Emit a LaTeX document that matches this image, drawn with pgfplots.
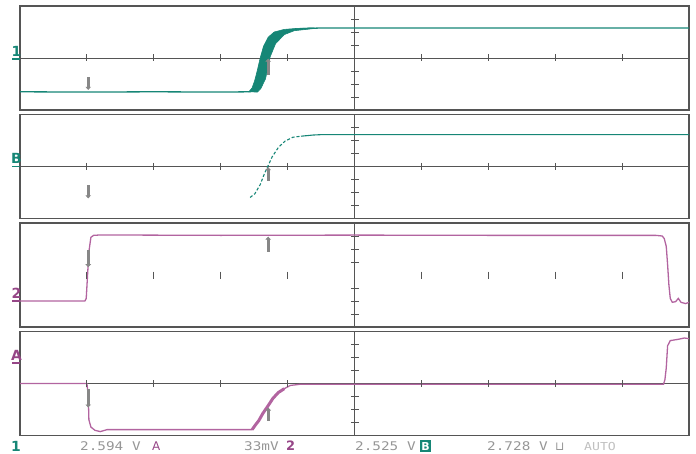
\documentclass[border=0pt]{standalone}
\usepackage{pgfplots}
\pgfplotsset{compat=1.18}
\usetikzlibrary{arrows.meta}
\usepackage{fontspec}
\newfontfamily\scopefont[FakeStretch=1.2]{DejaVu Sans Mono}
\newfontfamily\labfont{DejaVu Sans}
\definecolor{frame}{RGB}{85,85,85}
\definecolor{tealc}{RGB}{22,134,118}
\definecolor{magc}{RGB}{178,100,160}
\definecolor{magl}{RGB}{150,70,135}
\definecolor{curs}{RGB}{135,135,135}
\definecolor{txtg}{RGB}{150,150,150}
\newcommand{\scopegrid}{%
 \addplot[frame, line width=0.9bp] coordinates {(5,-4)(5,4)};
 \addplot[frame, only marks, mark=-, mark size=4bp, mark options={line width=0.9bp}] coordinates {(5,-3)(5,-2)(5,-1)(5,1)(5,2)(5,3)};
 \addplot[frame, only marks, mark=|, mark size=3.5bp, mark options={line width=0.9bp}] coordinates {(1,0)(2,0)(3,0)(4,0)(6,0)(7,0)(8,0)(9,0)};
}
\newcommand{\hzero}{\addplot[frame, line width=0.9bp] coordinates {(0,0)(10,0)};}
\tikzset{cur/.style={curs, line width=2.8bp, -{Triangle[width=5.5bp,length=3bp]}}}
\begin{document}
\begin{tikzpicture}
\useasboundingbox (0,0) rectangle (696bp,-454bp);
\pgfplotsset{scope/.style={at={(20bp,#1)}, anchor=north west, width=669bp, height=104bp, scale only axis,
  xmin=0, xmax=10, ymin=-4, ymax=4, axis line style={draw=frame, line width=1.1bp}, ticks=none, clip=true}}
% Panel 1
\begin{axis}[scope=-6bp]
\hzero
\scopegrid
\addplot[tealc, fill=tealc, line width=0.6bp] coordinates {(3.42,-2.6)(3.47,-2.3)(3.51,-1.7)(3.55,-0.9)(3.59,0)(3.64,0.9)(3.71,1.6)(3.8,2.0)(3.95,2.2)(4.15,2.28)(4.4,2.32)(4.4,2.27)(4.1,2.1)(3.95,1.8)(3.82,1.1)(3.74,0.1)(3.67,-1.6)(3.6,-2.35)(3.55,-2.62)} -- cycle;
\addplot[tealc, line width=1.3bp] coordinates {(0,-2.6)(1.0,-2.62)(2.0,-2.6)(3.0,-2.62)(3.44,-2.6)(3.5,-2.35)(3.55,-1.7)(3.6,-0.8)(3.65,0)(3.7,0.75)(3.77,1.35)(3.86,1.8)(3.97,2.05)(4.1,2.2)(4.25,2.27)(4.45,2.3)(5,2.3)(7,2.31)(10,2.3)};
\addplot[cur] coordinates {(1.02,-1.5)(1.02,-2.45)};
\addplot[cur] coordinates {(3.71,-1.3)(3.71,-0.05)};
\end{axis}
% Panel 2
\begin{axis}[scope=-114.5bp]
\hzero
\scopegrid
\addplot[tealc, line width=1.1bp, densely dashed] coordinates {(3.44,-2.38)(3.51,-2.1)(3.59,-1.4)(3.65,-0.6)(3.71,0.08)(3.77,0.75)(3.86,1.45)(3.96,1.95)(4.08,2.25)(4.2,2.33)};
\addplot[tealc, line width=1.1bp] coordinates {(4.2,2.33)(4.38,2.42)(4.5,2.45)(7,2.45)(10,2.45)};
\addplot[cur] coordinates {(1.02,-1.45)(1.02,-2.45)};
\addplot[cur] coordinates {(3.71,-1.1)(3.71,-0.05)};
\end{axis}
% Panel 3
\begin{axis}[scope=-223bp]
\scopegrid
\addplot[magc, line width=1.3bp] coordinates {(0,-2.0)(0.97,-2.0)(0.99,-1.8)(1.01,0.0)(1.03,1.8)(1.06,2.9)(1.1,3.05)(1.2,3.08)(3,3.05)(5,3.07)(7,3.05)(9.5,3.05)(9.6,3.0)(9.63,2.8)(9.66,2.2)(9.68,0.8)(9.7,-0.8)(9.72,-1.8)(9.75,-2.1)(9.8,-2.05)(9.84,-1.8)(9.88,-2.1)(9.95,-2.2)(10,-2.1)};
\addplot[cur] coordinates {(1.02,1.95)(1.02,0.6)};
\addplot[cur] coordinates {(3.71,1.8)(3.71,2.95)};
\end{axis}
% Panel 4
\begin{axis}[scope=-331.5bp]
\hzero
\scopegrid
\addplot[magc, line width=1.3bp] coordinates {(0,0)(1.0,0)(1.02,-0.9)(1.03,-2.8)(1.06,-3.35)(1.12,-3.6)(1.2,-3.7)(1.3,-3.55)(2,-3.55)(3,-3.55)(3.47,-3.55)(3.51,-3.25)(3.57,-2.85)(3.63,-2.3)(3.71,-1.7)(3.78,-1.15)(3.86,-0.7)(3.95,-0.4)(4.04,-0.15)(4.2,-0.05)(6,-0.05)(9.62,-0.05)(9.64,0.3)(9.66,1.2)(9.68,2.9)(9.72,3.3)(9.84,3.4)(9.93,3.5)(10,3.45)};
\addplot[magc, line width=3bp] coordinates {(3.47,-3.55)(3.51,-3.25)(3.57,-2.85)(3.63,-2.3)(3.71,-1.7)(3.78,-1.15)(3.86,-0.7)(3.95,-0.4)};
\addplot[cur] coordinates {(1.02,-0.4)(1.02,-1.85)};
\addplot[cur] coordinates {(3.71,-2.85)(3.71,-1.85)};
\end{axis}
% channel labels
\node[tealc, font=\labfont\bfseries\fontsize{14}{14}\selectfont, anchor=south, inner sep=0pt] at (16.5bp,-57bp) {1};
\draw[tealc, line width=1.3bp] (12bp,-59bp) -- (20bp,-59bp);
\node[tealc, font=\labfont\bfseries\fontsize{14}{14}\selectfont, anchor=south, inner sep=0pt] at (16.5bp,-164bp) {B};
\draw[tealc, line width=1.3bp] (12bp,-166.5bp) -- (20bp,-166.5bp);
\node[magl, font=\labfont\bfseries\fontsize{14}{14}\selectfont, anchor=south, inner sep=0pt] at (16.5bp,-299bp) {2};
\draw[magl, line width=1.3bp] (12bp,-301bp) -- (20bp,-301bp);
\node[magl, font=\labfont\bfseries\fontsize{14}{14}\selectfont, anchor=south, inner sep=0pt] at (16.5bp,-361bp) {A};
\draw[magl, line width=1.3bp] (12bp,-363bp) -- (20bp,-363bp);
% status line
\node[tealc, font=\labfont\bfseries\fontsize{14}{14}\selectfont, anchor=base west, inner sep=0pt] at (11bp,-451bp) {1};
\node[txtg, font=\scopefont\fontsize{12}{12}\selectfont, anchor=base west, inner sep=0pt] at (80bp,-450bp) {2.594 V};
\node[magl, font=\labfont\fontsize{12}{12}\selectfont, anchor=base west, inner sep=0pt] at (152bp,-450bp) {A};
\node[txtg, font=\scopefont\fontsize{12}{12}\selectfont, anchor=base west, inner sep=0pt] at (244bp,-450bp) {33mV};
\node[magl, font=\labfont\bfseries\fontsize{13}{13}\selectfont, anchor=base west, inner sep=0pt] at (286bp,-450bp) {2};
\node[txtg, font=\scopefont\fontsize{12}{12}\selectfont, anchor=base west, inner sep=0pt] at (355bp,-450bp) {2.525 V};
\node[fill=tealc, text=white, font=\labfont\bfseries\fontsize{11}{11}\selectfont, anchor=base west, inner xsep=1.2bp, inner ysep=2bp] at (420bp,-450bp) {B};
\node[txtg, font=\scopefont\fontsize{12}{12}\selectfont, anchor=base west, inner sep=0pt] at (487bp,-450bp) {2.728 V};
\node[txtg, font=\labfont\fontsize{12}{12}\selectfont, anchor=base west, inner sep=0pt] at (555bp,-450bp) {⊔};
\node[txtg!60, font=\scopefont\fontsize{11}{11}\selectfont, anchor=base west, inner sep=0pt] at (584bp,-450bp) {AUTO};
\end{tikzpicture}
\end{document}
